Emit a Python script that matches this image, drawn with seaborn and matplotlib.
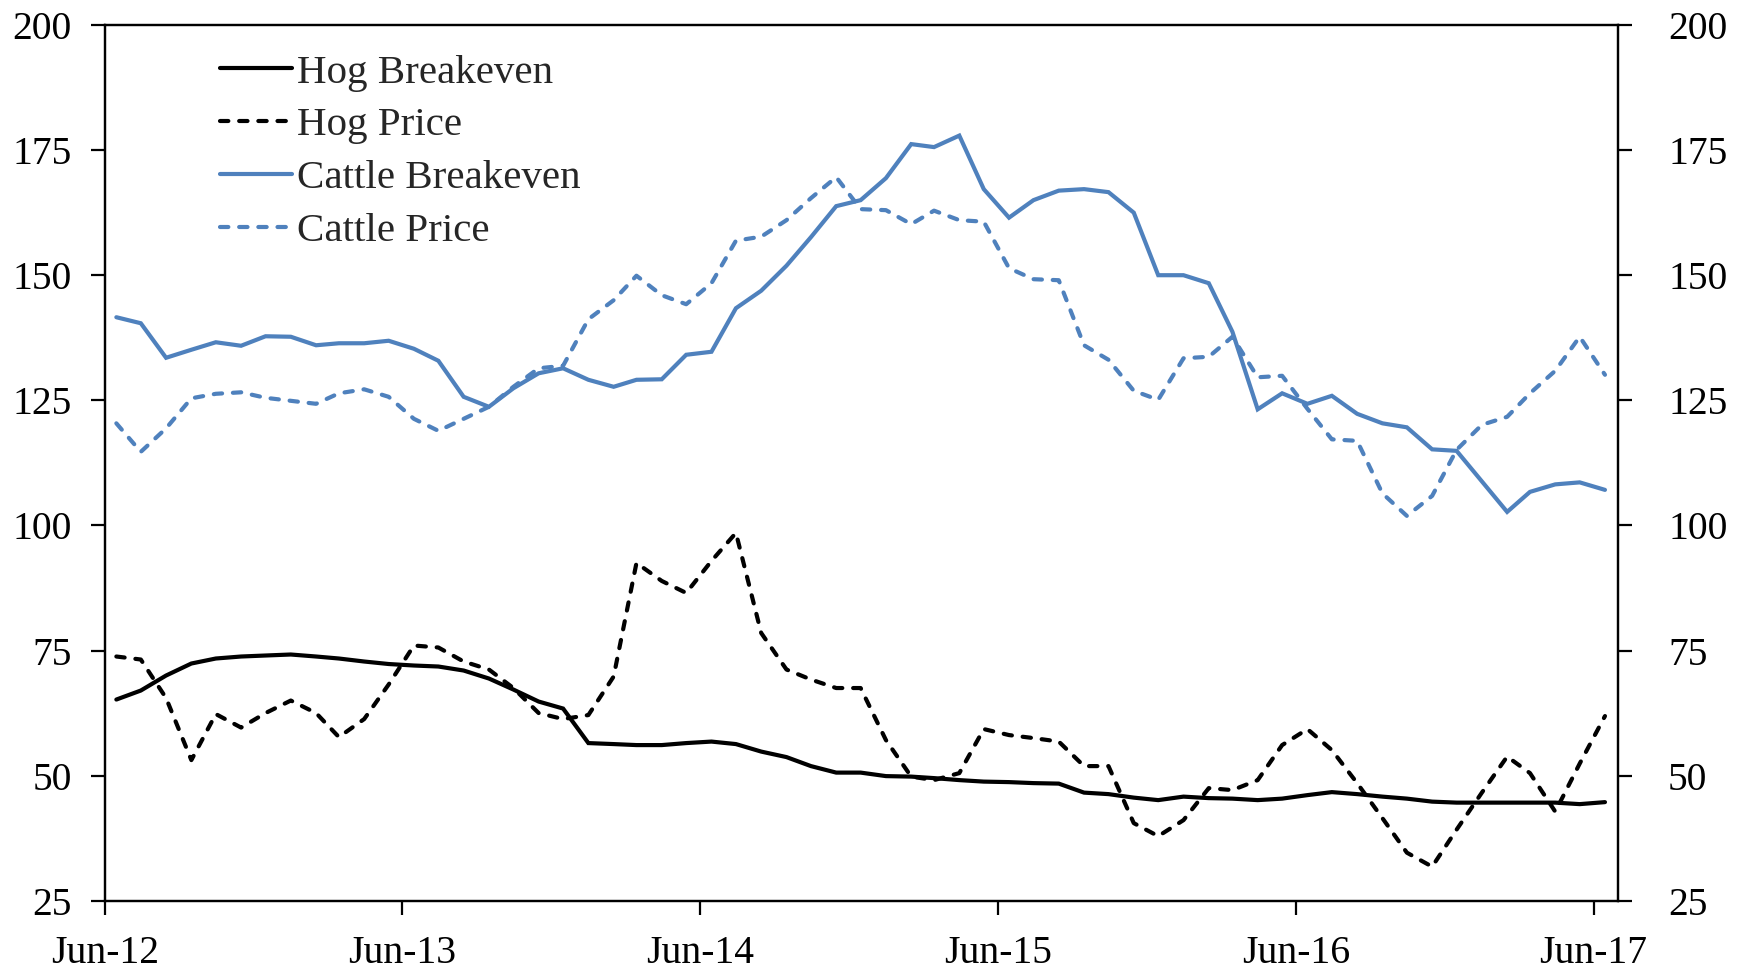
import matplotlib
matplotlib.use("Agg")
import matplotlib.dates as mdates
import matplotlib.pyplot as plt
import pandas as pd
import seaborn as sns

# monthly observations, Jun-2012 .. Jun-2017 (mid-month)
months = pd.date_range("2012-06-01", "2017-06-01", freq="MS") + pd.Timedelta(days=14)

hog_breakeven = [
    65.2, 67.0, 70.0, 72.4, 73.4, 73.8, 74.0, 74.2, 73.8, 73.4, 72.8, 72.3,
    72.0, 71.8, 71.0, 69.4, 67.2, 64.8, 63.4, 56.5, 56.3, 56.1, 56.1, 56.5,
    56.8, 56.3, 54.8, 53.7, 51.9, 50.6, 50.6, 49.9, 49.8, 49.5, 49.1, 48.8,
    48.7, 48.5, 48.4, 46.6, 46.3, 45.6, 45.1, 45.8, 45.5, 45.4, 45.1, 45.4,
    46.1, 46.7, 46.3, 45.8, 45.4, 44.8, 44.6, 44.6, 44.6, 44.6, 44.6, 44.3,
    44.7,
]
hog_price = [
    73.8, 73.2, 65.5, 53.1, 62.3, 59.6, 62.5, 65.0, 62.5, 57.7, 61.3, 68.2,
    76.0, 75.6, 72.8, 71.2, 67.5, 62.5, 61.3, 62.1, 69.8, 92.5, 88.9, 86.5,
    92.9, 98.5, 78.5, 71.2, 69.2, 67.5, 67.5, 57.1, 49.8, 49.1, 50.5, 59.3,
    58.1, 57.5, 56.8, 51.9, 51.9, 40.5, 37.9, 41.1, 47.5, 47.1, 49.1, 56.1,
    59.3, 55.1, 48.5, 41.5, 34.6, 31.8, 39.2, 46.6, 53.8, 50.5, 42.8, 52.4,
    61.9,
]
cattle_breakeven = [
    141.6, 140.4, 133.5, 135.1, 136.6, 135.9, 137.8, 137.7, 136.0, 136.4, 136.4, 136.9,
    135.3, 132.9, 125.7, 123.7, 127.4, 130.4, 131.4, 129.1, 127.7, 129.1, 129.2, 134.1,
    134.7, 143.4, 146.9, 151.9, 157.6, 163.8, 165.0, 169.4, 176.2, 175.6, 177.9, 167.2,
    161.5, 165.0, 166.9, 167.2, 166.6, 162.5, 150.0, 150.0, 148.4, 138.7, 123.2, 126.4,
    124.3, 125.9, 122.3, 120.4, 119.6, 115.2, 114.9, 108.8, 102.7, 106.7, 108.2, 108.6,
    107.1,
]
cattle_price = [
    120.4, 114.7, 119.4, 125.4, 126.3, 126.6, 125.5, 124.9, 124.3, 126.4, 127.2, 125.7,
    121.3, 118.9, 121.3, 123.7, 127.7, 131.4, 131.9, 141.2, 145.0, 149.9, 146.0, 144.2,
    148.4, 156.9, 157.7, 161.0, 165.4, 169.6, 163.2, 163.0, 160.2, 162.9, 161.0, 160.7,
    151.4, 149.2, 149.0, 136.0, 133.1, 126.9, 125.1, 133.4, 133.7, 137.7, 129.6, 129.9,
    123.3, 117.2, 116.9, 106.4, 101.9, 105.9, 115.1, 120.1, 121.7, 126.4, 130.9, 137.7,
    130.1,
]

y_ticks = [25, 50, 75, 100, 125, 150, 175, 200]
x_ticks = pd.date_range("2012-06-01", "2017-06-01", freq="12MS")

BLUE = "#4F81BD"
DASH = (0, (2.0, 2.6))
TICK_SIZE = 28.5


def main() -> None:
    df = pd.DataFrame({
        "date": months,
        "Hog Breakeven": hog_breakeven,
        "Hog Price": hog_price,
        "Cattle Breakeven": cattle_breakeven,
        "Cattle Price": cattle_price,
    })

    sns.set_theme(style="white")
    plt.rcParams["font.family"] = ["Liberation Serif", "DejaVu Serif"]

    fig = plt.figure(figsize=(17.46, 9.73), dpi=100)
    ax = fig.add_axes([0.0601, 0.0743, 0.8666, 0.9000])

    styles = [
        ("Hog Breakeven", "black", "-"),
        ("Hog Price", "black", DASH),
        ("Cattle Breakeven", BLUE, "-"),
        ("Cattle Price", BLUE, DASH),
    ]
    for name, color, ls in styles:
        sns.lineplot(
            data=df, x="date", y=name, ax=ax, color=color, linestyle=ls,
            linewidth=3.0, label=name, errorbar=None,
            dash_capstyle="round", solid_joinstyle="miter",
        )

    ax.set_xlim(pd.Timestamp("2012-06-01"), pd.Timestamp("2017-07-01"))
    ax.set_ylim(25, 200)
    ax.set_yticks(y_ticks)
    ax.set_xticks(x_ticks)
    ax.xaxis.set_major_formatter(mdates.DateFormatter("%b-%y"))
    ax.set_xlabel("")
    ax.set_ylabel("")

    # right-hand copy of the value axis
    ax2 = ax.twinx()
    ax2.set_ylim(25, 200)
    ax2.set_yticks(y_ticks)
    ax2.grid(False)

    for a in (ax, ax2):
        for side in ["left", "right", "top", "bottom"]:
            a.spines[side].set_visible(True)
            a.spines[side].set_color("black")
            a.spines[side].set_linewidth(1.6)

    ax.tick_params(axis="y", left=True, right=False, direction="out", length=10,
                   width=1.6, pad=14, labelsize=TICK_SIZE, colors="black")
    ax2.tick_params(axis="y", right=True, direction="out", length=10,
                    width=1.6, pad=26, labelsize=TICK_SIZE, colors="black")
    ax.tick_params(axis="x", bottom=True, direction="out", length=10, width=1.6,
                   pad=15, labelsize=TICK_SIZE, colors="black")

    ax.legend(
        loc="upper left", bbox_to_anchor=(0.0763, 0.967), frameon=False,
        fontsize=29.5, handlelength=1.75, handletextpad=0.12, labelspacing=0.37,
        borderpad=0, borderaxespad=0,
    )

    fig.savefig("out.png", dpi=100)
    plt.close(fig)


if __name__ == "__main__":
    main()
